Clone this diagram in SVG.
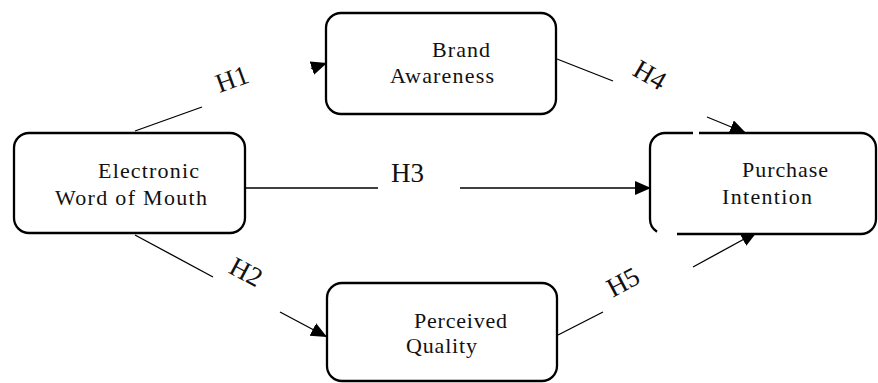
<svg xmlns="http://www.w3.org/2000/svg" width="878" height="383" viewBox="0 0 878 383">
<defs>
<marker id="arr" markerUnits="userSpaceOnUse" markerWidth="18" markerHeight="16" refX="16" refY="7" orient="auto">
<path d="M0,0 L16,7 L0,14 Z" fill="#000"/>
</marker>
<style>
.box{fill:#fff;stroke:#000;stroke-width:2.3}
.edge{fill:none;stroke:#000;stroke-width:1.3}
.t{font-family:"Liberation Serif","Times New Roman",serif;font-size:22px;fill:#111}
.h{font-family:"Liberation Serif","Times New Roman",serif;font-size:27px;fill:#111}
</style>
</defs>
<rect width="878" height="383" fill="#fff"/>
<g id="connectors">
<!-- H1 -->
<line class="edge" x1="135" y1="131" x2="202" y2="107"/>
<line class="edge" x1="311" y1="68.3" x2="327" y2="63" marker-end="url(#arr)"/>
<!-- H2 -->
<line class="edge" x1="135" y1="235" x2="213" y2="277"/>
<line class="edge" x1="280" y1="312" x2="327" y2="337" marker-end="url(#arr)"/>
<!-- H3 -->
<line class="edge" x1="245" y1="188" x2="378" y2="188"/>
<line class="edge" x1="460" y1="188" x2="651" y2="188" marker-end="url(#arr)"/>
<!-- H4 -->
<line class="edge" x1="557" y1="59" x2="613" y2="81"/>
<line class="edge" x1="707" y1="117" x2="746" y2="133" marker-end="url(#arr)"/>
<!-- H5 -->
<line class="edge" x1="558" y1="335" x2="603" y2="312"/>
<line class="edge" x1="693" y1="267" x2="757" y2="232" marker-end="url(#arr)"/>
<text class="h" transform="translate(232,79) rotate(-20)" x="0" y="9" text-anchor="middle">H1</text>
<text class="h" transform="translate(246,272) rotate(28)" x="0" y="9" text-anchor="middle">H2</text>
<text class="h" x="391" y="182">H3</text>
<text class="h" transform="translate(650,75) rotate(30)" x="0" y="9" text-anchor="middle">H4</text>
<text class="h" transform="translate(623,282) rotate(-28)" x="0" y="9" text-anchor="middle">H5</text>
</g>
<g id="ewom">
<rect class="box" x="14" y="133" width="231" height="100" rx="15"/>
<text class="t" x="98" y="178" textLength="101" lengthAdjust="spacing">Electronic</text>
<text class="t" x="55" y="205" textLength="152" lengthAdjust="spacing">Word of Mouth</text>
</g>
<g id="brand-awareness">
<rect class="box" x="326" y="13" width="230" height="101" rx="15"/>
<text class="t" x="432" y="57" textLength="58" lengthAdjust="spacing">Brand</text>
<text class="t" x="390" y="83" textLength="104" lengthAdjust="spacing">Awareness</text>
</g>
<g id="perceived-quality">
<rect class="box" x="327" y="283" width="230" height="98" rx="15"/>
<text class="t" x="414" y="328" textLength="93" lengthAdjust="spacing">Perceived</text>
<text class="t" x="406" y="353" textLength="71" lengthAdjust="spacing">Quality</text>
</g>
<g id="purchase-intention">
<rect x="650" y="133" width="226" height="101" rx="15" fill="#fff"/>
<path class="box" fill="none" d="M699,133 H861 A15,15 0 0 1 876,148 V219 A15,15 0 0 1 861,234 H677 M657,231.7 A15,15 0 0 1 650,219 V148 A15,15 0 0 1 665,133 H693"/>
<text class="t" x="742" y="177" textLength="86" lengthAdjust="spacing">Purchase</text>
<text class="t" x="722" y="204" textLength="90" lengthAdjust="spacing">Intention</text>
</g>
</svg>
